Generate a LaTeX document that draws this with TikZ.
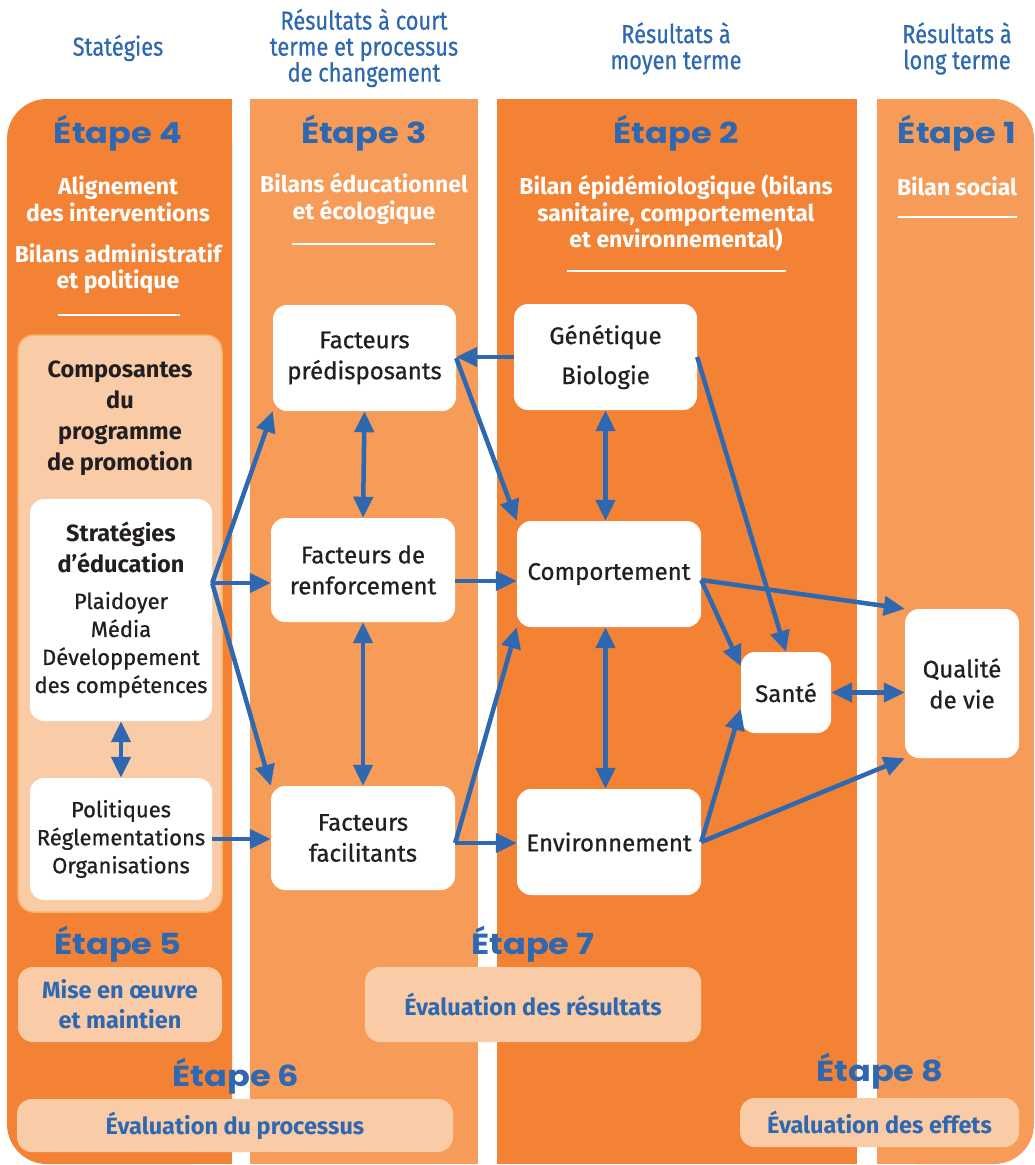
\documentclass[tikz,border=0pt]{standalone}
\usepackage{fontspec}
\setmainfont{Fira Sans}
\newfontfamily\etapefont{Poppins}[FakeStretch=1.16]
\newfontfamily\headfont{Fira Sans}[FakeStretch=0.84, FakeBold=0.5]
\newfontfamily\boxfont{Fira Sans}[FakeBold=0.8]
\usetikzlibrary{arrows.meta}
\definecolor{orangeA}{RGB}{243,130,53}
\definecolor{orangeB}{RGB}{246,155,88}
\definecolor{peach}{RGB}{249,204,167}
\definecolor{peachline}{RGB}{246,182,108}
\definecolor{bleu}{RGB}{45,104,176}
\definecolor{encre}{RGB}{35,31,32}
\tikzset{
  etape/.style={text=bleu, font=\etapefont\bfseries\fontsize{29}{32}\selectfont},
  bilan/.style={text=white, align=center, font=\bfseries\fontsize{23}{26.5}\selectfont},
  entete/.style={text=bleu, align=center, font=\headfont\fontsize{26}{26}\selectfont},
  boite/.style={fill=white, rounded corners=14pt, text=encre, align=center,
    inner sep=0pt, font=\boxfont\fontsize{24}{31}\selectfont},
  eval/.style={fill=peach, rounded corners=15pt, text=bleu, align=center,
    inner sep=0pt, font=\bfseries\fontsize{23.5}{30}\selectfont},
  fleche/.style={draw=bleu, line width=4.5pt, -{Triangle[length=21pt,width=19pt]}},
  dfleche/.style={fleche, {Triangle[length=21pt,width=19pt]}-{Triangle[length=21pt,width=19pt]}},
  trait/.style={draw=white, line width=2pt},
}
\begin{document}
\begin{tikzpicture}[x=1pt,y=-1pt]
    \useasboundingbox (0,0) rectangle (1034,1165);
    \fill[white] (0,0) rectangle (1034,1165);
    % columns
    \fill[orangeA, rounded corners=40pt] (7,99) rectangle (232,1164);
    \fill[orangeA] (100,99) rectangle (232,1164);
    \fill[orangeB] (250,99) rectangle (478,1164);
    \fill[orangeA] (497,99) rectangle (857,1164);
    \fill[orangeB, rounded corners=40pt] (877,99) rectangle (1034,1164);
    \fill[orangeB] (877,99) rectangle (950,1164);
    % headers
    \node[entete] (hstrat) at (118,48) {Statégies};
    \node[entete] (hcourt) at (364,48) {Résultats à court\\terme et processus\\de changement};
    \node[entete] (hmoyen) at (676,48.5) {Résultats à\\moyen terme};
    \node[entete] (hlong) at (957,48.5) {Résultats à\\long terme};
    \node[etape] (e4) at (118,133) {Étape 4};
    \node[etape] (e3) at (364,133) {Étape 3};
    \node[etape] (e2) at (676,133) {Étape 2};
    \node[etape] (e1) at (957,133) {Étape 1};
    \node[bilan] (b4a) at (118,199) {Alignement\\des interventions};
    \node[bilan] (b4b) at (118,268.5) {Bilans administratif\\et politique};
    \node[bilan] (b3) at (364,199) {Bilans éducationnel\\et écologique};
    \node[bilan] (b2) at (676,213) {Bilan épidémiologique (bilans\\sanitaire, comportemental\\et environnemental)};
    \node[bilan] (b1) at (957,186) {Bilan social};
    \draw[trait] (58,315) -- (180,315);
    \draw[trait] (292,244) -- (435,244);
    \draw[trait] (567,271) -- (786,271);
    \draw[trait] (898,217) -- (1017,217);
    % program components
    \node[draw=peachline, fill=peach, line width=1.5pt, rounded corners=16pt,
      minimum width=204pt, minimum height=577pt] (panneau) at (120,623.5) {};
    \node[text=encre, align=center, font=\bfseries\fontsize{23.5}{31}\selectfont] (compo) at (120,418)
      {Composantes\\du\\programme\\de promotion};
    \node[boite, minimum width=182pt, minimum height=222pt, font=\boxfont\fontsize{22}{28}\selectfont] (strat) at (121,610)
      {\rmfamily\bfseries\fontsize{23.5}{30}\selectfont Stratégies\\[3pt]\rmfamily\bfseries\fontsize{23.5}{30}\selectfont d’éducation\\[8pt]
       \boxfont\fontsize{22}{28}\selectfont Plaidoyer\\Média\\Développement\\des compétences};
    \node[boite, minimum width=182pt, minimum height=122pt, font=\boxfont\fontsize{22}{28}\selectfont] (polit) at (121,839)
      {Politiques\\Réglementations\\Organisations};
    % factors
    \node[boite, minimum width=183pt, minimum height=106pt] (pred) at (364.5,358) {Facteurs\\prédisposants};
    \node[boite, minimum width=184pt, minimum height=104pt] (renf) at (363,570) {Facteurs de\\renforcement};
    \node[boite, minimum width=184pt, minimum height=104pt] (facil) at (363,838) {Facteurs\\facilitants};
    \node[boite, minimum width=183pt, minimum height=106pt] (gene) at (605.5,357) {Génétique\\[9pt]Biologie};
    \node[boite, minimum width=184pt, minimum height=106pt] (comp) at (609,574) {Comportement};
    \node[boite, minimum width=184pt, minimum height=106pt] (envi) at (609,842) {Environnement};
    \node[boite, minimum width=90pt, minimum height=81pt] (sante) at (786,692.5) {Santé};
    \node[boite, minimum width=114pt, minimum height=149pt] (qual) at (962,683.5) {Qualité\\de vie};
    % evaluation
    \node[etape] (e5) at (118,944) {Étape 5};
    \node[eval, minimum width=204pt, minimum height=75pt] (ev5) at (120,1004.5) {Mise en œuvre\\et maintien};
    \node[etape] (e7) at (533,944) {Étape 7};
    \node[eval, minimum width=336pt, minimum height=75pt] (ev7) at (533,1004.5) {Évaluation des résultats};
    \node[etape] (e6) at (236,1076) {Étape 6};
    \node[eval, minimum width=436pt, minimum height=53pt] (ev6) at (235,1125.5) {Évaluation du processus};
    \node[etape] (e8) at (880,1071) {Étape 8};
    \node[eval, minimum width=279pt, minimum height=49pt] (ev8) at (879.5,1122.5) {Évaluation des effets};
    % arrows
    \draw[dfleche] (strat.south) -- (polit.north);
    \coordinate (sfork) at ([yshift=27pt]strat.east);
    \draw[fleche] (sfork) -- (pred.south west);
    \draw[fleche] (sfork) -- (sfork -| renf.west);
    \draw[fleche] (sfork) -- (facil.north west);
    \draw[fleche] (polit.east) -- (polit.east -| facil.west);
    \draw[fleche] (gene.west) -- (gene.west -| pred.east);
    \draw[fleche] (pred.east) -- (comp.north west);
    \draw[dfleche] (pred.south) -- (renf.north);
    \draw[dfleche] (renf.south) -- (facil.north);
    \coordinate (rfork) at ([yshift=-11pt]renf.east);
    \draw[fleche] (rfork) -- (rfork -| comp.west);
    \coordinate (ffork) at ([yshift=-5pt]facil.east);
    \draw[fleche] (ffork) -- (comp.south west);
    \draw[fleche] (ffork) -- (ffork -| envi.west);
    \draw[dfleche] (gene.south) -- (gene.south |- comp.north);
    \draw[dfleche] (gene.south |- comp.south) -- (gene.south |- envi.north);
    \draw[fleche] (gene.east) -- (sante.north);
    \coordinate (cfork) at ([yshift=-6pt]comp.east);
    \draw[fleche] (cfork) -- (qual.north west);
    \draw[fleche] (cfork) -- (sante.150);
    \draw[fleche] (envi.east) -- (sante.200);
    \draw[fleche] (envi.east) -- (qual.south west);
    \draw[dfleche] (sante.east) -- (sante.east -| qual.west);
\end{tikzpicture}
\end{document}
